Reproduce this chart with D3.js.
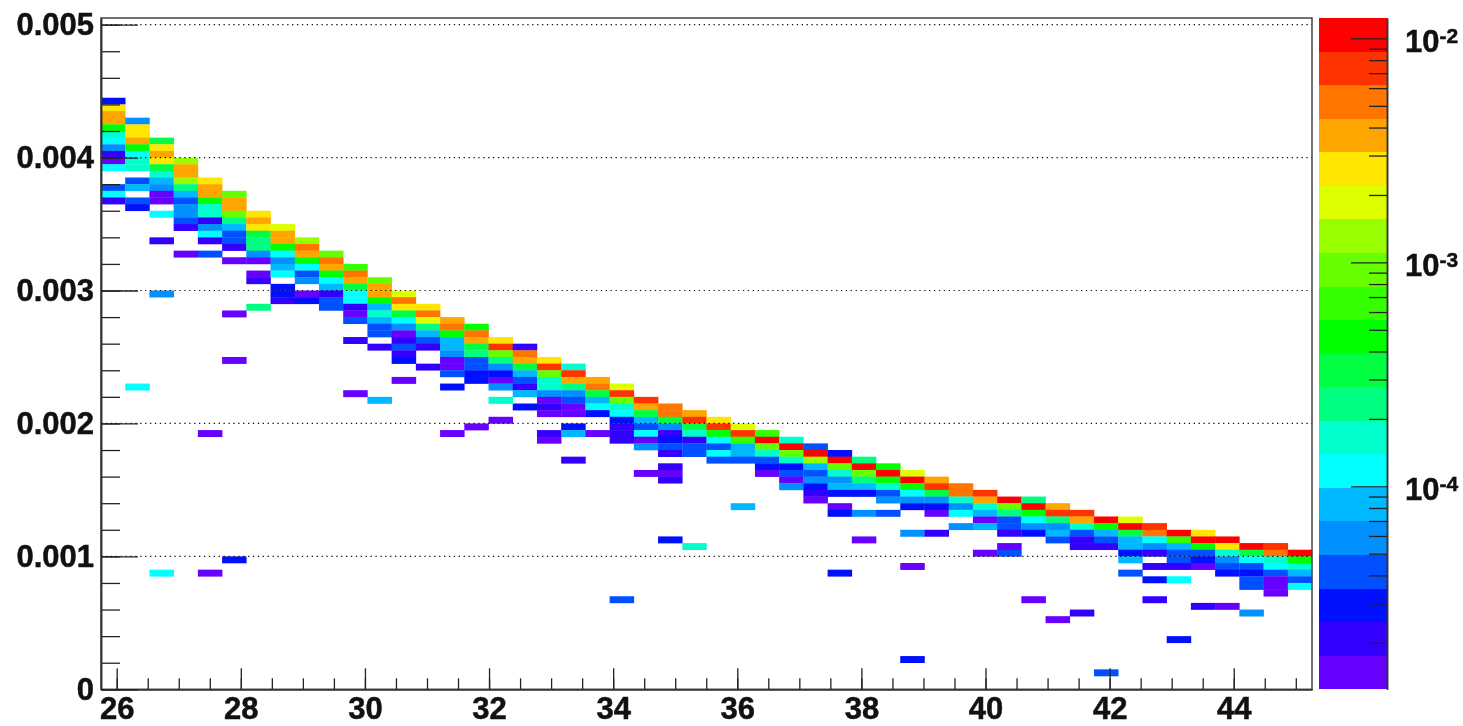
<!DOCTYPE html>
<html>

<head>
    <meta charset="utf-8">
    <style>
        body {
            margin: 0;
            background: white;
        }

        svg {
            display: block;
            filter: blur(0.45px);
        }

        text {
            font-family: "Liberation Sans", Arial, sans-serif;
            font-weight: bold;
            font-size: 31px;
            fill: #111;
            stroke: #111;
            stroke-width: 0.5px;
        }
    </style>
</head>

<body>
    <svg width="1463" height="726"></svg>

    <script src="https://d3js.org/d3.v7.min.js"></script>

    <script>
        const _ = null

        // one colour per contour level of the palette, bottom of the bar first
        const palette = ["#6600ff", "#3300ff", "#0010ff", "#0050ff", "#0090ff", "#00b8ff", "#00ffff", "#00ffcc", "#00ff80", "#00ff40",
            "#00ff00", "#33ff00", "#66ff00", "#99ff00", "#ddff00", "#ffe600", "#ffa500", "#ff7500", "#ff3300", "#ff0000"]

        // upper row of the ridge in every x bin, then its colour levels going down
        const ridgeTop = [88, 85, 82, 79, 76, 74, 71, 69, 67, 65, 63, 61, 59, 57, 55, 54, 52, 51, 49, 48, 46, 45, 43, 42, 41,
            40, 39, 38, 37, 36, 35, 34, 33, 32, 31, 30, 29, 28, 28, 27, 26, 25, 25, 24, 23, 23, 22, 21, 21, 20]

        const ridgeLevels = [
            [2, 15, 16, 16, 10, 7, 6, 4, 1, 0, 6, _, _, 3, 6, 1],
            [4, 15, 15, 16, 10, 6, 7, 7, _, 3, 5, _, 3, 2],
            [9, 15, 16, 15, 9, 7, 5, 4, 0, 0, _, 6],
            [13, 16, 16, 13, 8, 5, 3, 4, 4, 3, 1],
            [15, 16, 16, 10, 7, 7, 1, 4, 6, 1, _, 3],
            [12, 16, 16, 12, 8, 5, 3, 3, 1, _, 0],
            [15, 16, 15, 9, 8, 8, 4, 0, _, 0, 1],
            [14, 16, 16, 10, 6, 4, 5, 6, _, 2, 2, 1],
            [13, 17, 16, 10, 6, 3, 4, _, 0, 2],
            [12, 17, 16, 10, 6, 5, 1, 3, 3],
            [11, 17, 16, 9, 6, 6, 1, 0, 3, _, _, 1],
            [12, 16, 16, 10, 5, 7, 5, 3, 3, _, 1],
            [14, 17, 15, 9, 6, 4, 0, 1, 3, 1, 2],
            [15, 17, 14, 8, 5, 3, 1, _, _, 1],
            [16, 17, 10, 5, 5, 4, 0, 0, 3, _, 2],
            [10, 17, 16, 9, 8, 3, 3, 2, 2],
            [15, 18, 12, 8, 4, 2, 0, 4],
            [1, 17, 16, 9, 5, 3, 1, 5, _, 2],
            [15, 18, 12, 7, 7, 4, 0, 1, 0, _, _, 1, 0],
            [7, 18, 16, 8, 4, 3, 0, 0, _, 2, 5],
            [16, 17, 9, 5, 6, 2, _, _, 0],
            [14, 18, 12, 7, 6, 2, 1, 1, 1],
            [18, 16, 9, 5, 3, 6, 0, 4],
            [17, 17, 9, 4, 1, 2, 3, 1, _, 1, 0, 1],
            [16, 18, 9, 7, 1, 3, 3],
            [15, 18, 10, 6, 3, 6, 3],
            [14, 18, 11, 5, 5, 3],
            [11, 19, 12, 7, 3, 2, 0],
            [7, 19, 12, 7, 2, 3, 0, 4],
            [3, 19, 13, 5, 3, 4, 2, 1, 0],
            [2, 19, 12, 7, 4, 5, 2, _, 0, 2],
            [8, 19, 12, 8, 5, 2, _, _, 4],
            [10, 19, 10, 7, 3, 4, _, 3],
            [14, 19, 10, 6, 4, 2],
            [16, 18, 9, 4, 2, 0],
            [17, 17, 7, 4, 6, _, 4],
            [18, 16, 7, 5, 0, 5],
            [19, 12, 8, 3, 3, 1, _, 0, 3],
            [8, 19, 10, 6, 4, 2],
            [16, 18, 8, 4, 5, 3],
            [18, 16, 7, 3, 1, 1],
            [19, 10, 5, 3, 1],
            [14, 19, 9, 5, 5, 2, 5, _, 3],
            [18, 17, 6, 4, 1, _, 1, _, 2],
            [19, 11, 5, 3, 3, 1, _, 6],
            [15, 19, 10, 3, 2, 0],
            [19, 15, 7, 4, 3, 2],
            [19, 9, 6, 3, 2, 3, 3],
            [18, 17, 7, 6, 3, 0, 0, 0],
            [19, 10, 7, 5, 3, 6]
        ]

        // isolated cells away from the ridge
        const strayCols = [1, 2, 2, 2, 3, 4, 4, 5, 5, 5, 6, 10, 11, 12, 14, 15, 16, 16, 19, 21, 22, 23, 24, 26, 30, 31, 33, 33, 33, 34, 36, 38, 39, 40, 41, 43, 44, 45, 46, 47]
        const strayRows = [45, 67, 59, 17, 65, 38, 17, 56, 49, 19, 57, 44, 43, 46, 38, 39, 43, 40, 34, 13, 32, 22, 21, 27, 17, 22, 23, 18, 4, 23, 20, 13, 10, 11, 2, 13, 7, 12, 12, 11]
        const strayLevels = [6, 1, 4, 6, 0, 0, 0, 0, 0, 2, 8, 0, 5, 0, 0, 0, 7, 0, 1, 3, 0, 2, 7, 5, 2, 0, 4, 0, 2, 1, 0, 0, 0, 1, 3, 1, 2, 1, 0, 4]

        const xTicksMajor = [26, 28, 30, 32, 34, 36, 38, 40, 42, 44]
        const xTicksMinor = d3.range(26, 45.5, 0.5)
        const yTicksMajor = [0, 0.001, 0.002, 0.003, 0.004, 0.005]
        const yTicksMinor = d3.range(0, 0.00501, 0.0002)
        const zDecades = [1e-2, 1e-3, 1e-4]
        const zMinor = [9e-3, 8e-3, 7e-3, 6e-3, 5e-3, 4e-3, 3e-3, 2e-3, 9e-4, 8e-4, 7e-4, 6e-4, 5e-4, 4e-4, 3e-4, 2e-4, 9e-5, 8e-5, 7e-5, 6e-5, 5e-5, 4e-5, 3e-5, 2e-5]

        const xBins = 50
        const yBinSize = 0.00005

        let svg = d3.select("svg")

        let frame = { left: 101, right: 1312, top: 18, bottom: 689.3 }

        let x = d3.scaleLinear().domain([25.747, 45.261]).range([frame.left, frame.right])
        let y = d3.scaleLinear().domain([0, 0.00505]).range([frame.bottom, frame.top])
        let z = d3.scaleLog().domain([1.24e-5, 1.234e-2]).range([frame.bottom, frame.top])
        let color = d3.scaleOrdinal(d3.range(palette.length), palette)

        let xBinSize = (x.domain()[1] - x.domain()[0]) / xBins

        // flatten ridge and strays into one list of cells
        let cells = []
        ridgeLevels.forEach((levels, col) => {
            levels.forEach((level, i) => {
                if (level !== null) {
                    cells.push({ col: col, row: ridgeTop[col] - i, level: level })
                }
            })
        })
        strayCols.forEach((col, i) => {
            cells.push({ col: col, row: strayRows[i], level: strayLevels[i] })
        })

        // the small overlap hides hairlines between neighbouring cells
        svg.append("g")
            .selectAll("rect")
            .data(cells)
            .join("rect")
            .attr("x", d => x(x.domain()[0] + d.col * xBinSize))
            .attr("y", d => y((d.row + 1) * yBinSize))
            .attr("width", x(x.domain()[0] + xBinSize) - x(x.domain()[0]) + 0.3)
            .attr("height", y(0) - y(yBinSize) + 0.3)
            .style("fill", d => color(d.level))

        // dotted grid, horizontal only
        svg.append("g")
            .selectAll("line")
            .data(yTicksMajor.slice(1))
            .join("line")
            .attr("x1", frame.left)
            .attr("x2", frame.right)
            .attr("y1", d => y(d))
            .attr("y2", d => y(d))
            .style("stroke", "#111")
            .style("stroke-width", 1.2)
            .style("stroke-dasharray", "1.3 3.6")

        // frame
        svg.append("rect")
            .attr("x", frame.left)
            .attr("y", frame.top)
            .attr("width", frame.right - frame.left)
            .attr("height", frame.bottom - frame.top)
            .style("fill", "none")
            .style("stroke", "#444")
            .style("stroke-width", 1.5)

        // minor ticks first, then the labelled axes on top
        svg.append("g")
            .attr("transform", `translate(0,${frame.bottom})`)
            .call(d3.axisBottom(x).tickValues(xTicksMinor).tickSize(-11).tickSizeOuter(0).tickFormat(""))

        svg.append("g")
            .attr("transform", `translate(${frame.left},0)`)
            .call(d3.axisLeft(y).tickValues(yTicksMinor).tickSize(-19).tickSizeOuter(0).tickFormat(""))

        svg.append("g")
            .attr("transform", `translate(0,${frame.bottom})`)
            .call(d3.axisBottom(x).tickValues(xTicksMajor).tickSize(-21).tickSizeOuter(0).tickPadding(8))

        svg.append("g")
            .attr("transform", `translate(${frame.left},0)`)
            .call(d3.axisLeft(y).tickValues(yTicksMajor).tickSize(-37).tickSizeOuter(0).tickPadding(7)
                .tickFormat(d => d === 0 ? "0" : d3.format(".3f")(d)))

        // colour bar
        let bar = { left: 1318.7, right: 1387 }
        let zEdges = d3.range(palette.length + 1).map(i => {
            let lo = Math.log10(z.domain()[0]), hi = Math.log10(z.domain()[1])
            return Math.pow(10, lo + i * (hi - lo) / palette.length)
        })

        svg.append("g")
            .selectAll("rect")
            .data(palette)
            .join("rect")
            .attr("x", bar.left)
            .attr("width", bar.right - bar.left)
            .attr("y", (d, i) => z(zEdges[i + 1]))
            .attr("height", (d, i) => z(zEdges[i]) - z(zEdges[i + 1]))
            .attr("shape-rendering", "crispEdges")
            .style("fill", d => d)

        svg.append("g")
            .attr("transform", `translate(${bar.right},0)`)
            .call(d3.axisRight(z).tickValues(zMinor).tickSize(-18).tickSizeOuter(0).tickFormat(""))

        let zAxis = svg.append("g")
            .attr("transform", `translate(${bar.right},0)`)
            .call(d3.axisRight(z).tickValues(zDecades).tickSize(-36).tickSizeOuter(0).tickFormat("").tickPadding(18))

        zAxis.selectAll(".tick text").each(function (d) {
            let label = d3.select(this).attr("dy", "0.43em")
            label.append("tspan").text("10")
            label.append("tspan")
                .text(Math.round(Math.log10(d)))
                .attr("dy", "-0.42em")
                .style("font-size", "21px")
        })

        svg.selectAll(".domain").style("stroke", "#333").style("stroke-width", 1.5)
        svg.selectAll(".tick line").style("stroke", "#222").style("stroke-width", 1.3)
    </script>
</body>

</html>
